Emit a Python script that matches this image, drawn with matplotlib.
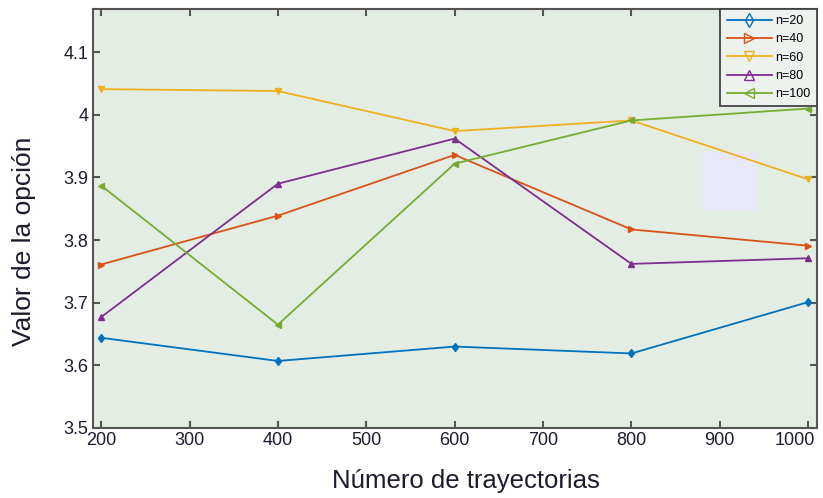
import numpy as np
import matplotlib.pyplot as plt
from matplotlib.ticker import FuncFormatter
from matplotlib.patches import Rectangle
from matplotlib.transforms import ScaledTranslation

# Data
trayectorias = [200, 400, 600, 800, 1000]
n20 = [3.644, 3.607, 3.630, 3.619, 3.701]
n40 = [3.761, 3.839, 3.936, 3.817, 3.791]
n60 = [4.041, 4.038, 3.974, 3.991, 3.897]
n80 = [3.677, 3.890, 3.962, 3.762, 3.771]
n100 = [3.887, 3.665, 3.922, 3.991, 4.010]

labels = ['n=20', 'n=40', 'n=60', 'n=80', 'n=100']
x_ticks = [200, 300, 400, 500, 600, 700, 800, 900, 1000]
y_ticks = [3.5, 3.6, 3.7, 3.8, 3.9, 4.0, 4.1]

# MATLAB default colours and markers
colors = ['#0072BD', '#D95319', '#EDB120', '#7E2F8E', '#77AC30']
markers = ['d', '>', 'v', '^', '<']

plt.rcParams['font.family'] = ['Liberation Sans', 'DejaVu Sans']

fig = plt.figure(figsize=(8.23, 4.98), dpi=100)
ax = fig.add_axes([0.1127, 0.1406, 0.8800, 0.8414])
ax.set_facecolor('#e3ede3')

series = [n20, n40, n60, n80, n100]
for vals, lab, c, m in zip(series, labels, colors, markers):
    ax.plot(trayectorias, vals, color=c, marker=m, markersize=4.5,
            linewidth=1.3, label=lab, zorder=3)

# pale patch visible in the reference image
ax.add_patch(Rectangle((0.843, 0.520), 0.074, 0.139, transform=ax.transAxes,
                       facecolor='#e8e8fa', edgecolor='none', zorder=2))

ax.set_xlim(190.5, 1010)
ax.set_ylim(3.5, 4.169)
ax.set_xticks(x_ticks)
ax.set_yticks(y_ticks)
ax.yaxis.set_major_formatter(FuncFormatter(lambda v, p: '%g' % round(v, 2)))

ax.tick_params(direction='in', top=True, right=True, length=5, width=1.5,
               color='#555555', labelsize=13, labelcolor='#1c1c30', pad=3)
# keep the last x label inside the figure, as in the reference
last = ax.get_xticklabels()[-1]
last.set_horizontalalignment('right')
last.set_transform(last.get_transform() + ScaledTranslation(7 / 100, 0, fig.dpi_scale_trans))
for s in ax.spines.values():
    s.set_color('#555555')
    s.set_linewidth(1.5)

ax.set_xlabel('Número de trayectorias', fontsize=18.5, color='#1c1c30')
ax.set_ylabel('Valor de la opción', fontsize=19, color='#1c1c30')
ax.xaxis.set_label_coords(0.515, -0.098)
ax.yaxis.set_label_coords(-0.078, 0.446)

leg = ax.legend(loc='upper right', bbox_to_anchor=(1.0, 1.0), fontsize=9,
                frameon=True, fancybox=False, edgecolor='#444444',
                facecolor='#eef2ee', framealpha=1, borderaxespad=0.0,
                handlelength=3.6, labelspacing=0.5, handletextpad=0.3,
                borderpad=0.5, markerscale=1.6)
for h in leg.legend_handles:
    h.set_markerfacecolor('none')
leg.get_frame().set_linewidth(1.3)

fig.savefig('out.png', dpi=100, facecolor='white')
